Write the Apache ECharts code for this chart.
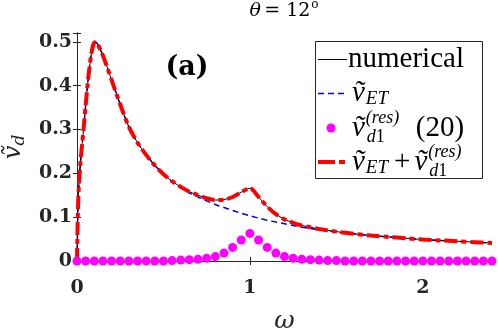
<!DOCTYPE html>
<html>
<head>
<meta charset="utf-8">
<script src="https://cdn.jsdelivr.net/npm/echarts@6/dist/echarts.min.js"></script>
<style>
html, body { margin: 0; padding: 0; background: #fff; }
#chart { width: 498px; height: 329px; }
</style>
</head>
<body>
<div id="chart"></div>
<script>
// omega grid for the continuous curves
const curveOmega = [0, 0.005, 0.01, 0.02, 0.03, 0.04, 0.05, 0.06, 0.07, 0.08, 0.09, 0.1, 0.11, 0.12, 0.14, 0.16, 0.18, 0.2,
    0.25, 0.3, 0.35, 0.4, 0.45, 0.5, 0.55, 0.6, 0.65, 0.7, 0.75, 0.8, 0.85, 0.9, 0.95, 1.0, 1.05, 1.1, 1.15, 1.2, 1.25,
    1.3, 1.35, 1.4, 1.5, 1.6, 1.7, 1.8, 1.9, 2.0, 2.1, 2.2, 2.3, 2.4]

// v_ET (blue dashed)
const etValues = [0, 0.11, 0.165, 0.225, 0.268, 0.31, 0.355, 0.397, 0.434, 0.465, 0.487, 0.498, 0.499, 0.494, 0.478, 0.458, 0.436, 0.413,
    0.357, 0.306, 0.27, 0.242, 0.218, 0.198, 0.181, 0.167, 0.155, 0.146, 0.137, 0.129, 0.122, 0.115, 0.109, 0.103, 0.098, 0.093, 0.089, 0.085, 0.081,
    0.077, 0.074, 0.071, 0.066, 0.062, 0.058, 0.055, 0.052, 0.049, 0.047, 0.045, 0.043, 0.041]

// numerical (thin black)
const numericalValues = [0, 0.11, 0.165, 0.225, 0.268, 0.31, 0.355, 0.397, 0.434, 0.465, 0.487, 0.498, 0.499, 0.494, 0.478, 0.458, 0.436, 0.413,
    0.357, 0.306, 0.27, 0.242, 0.218, 0.198, 0.182, 0.169, 0.158, 0.15, 0.143, 0.139, 0.14, 0.146, 0.157, 0.166, 0.146, 0.124, 0.107, 0.095, 0.087,
    0.081, 0.077, 0.073, 0.067, 0.062, 0.058, 0.055, 0.052, 0.049, 0.047, 0.045, 0.043, 0.041]

// v_ET + v_d1^(res) (red dash-dot)
const sumValues = [0, 0.11, 0.165, 0.225, 0.268, 0.31, 0.355, 0.397, 0.434, 0.465, 0.487, 0.498, 0.499, 0.494, 0.478, 0.458, 0.436, 0.413,
    0.357, 0.306, 0.27, 0.242, 0.218, 0.198, 0.182, 0.169, 0.158, 0.15, 0.143, 0.139, 0.14, 0.146, 0.157, 0.166, 0.146, 0.124, 0.107, 0.095, 0.087,
    0.081, 0.077, 0.073, 0.067, 0.062, 0.058, 0.055, 0.052, 0.049, 0.047, 0.045, 0.043, 0.041]

// v_d1^(res) (magenta dots), every 0.05
const resOmega = [0, 0.05, 0.1, 0.15, 0.2, 0.25, 0.3, 0.35, 0.4, 0.45, 0.5, 0.55, 0.6, 0.65, 0.7, 0.75, 0.8, 0.85, 0.9, 0.95,
    1.0, 1.05, 1.1, 1.15, 1.2, 1.25, 1.3, 1.35, 1.4, 1.45, 1.5, 1.55, 1.6, 1.65, 1.7, 1.75, 1.8, 1.85, 1.9, 1.95,
    2.0, 2.05, 2.1, 2.15, 2.2, 2.25, 2.3, 2.35, 2.4]
const resValues = [0, 0, 0, 0, 0, 0, 0, 0, 0, 0, 0, 0.001, 0.002, 0.003, 0.004, 0.006, 0.01, 0.018, 0.031, 0.048,
    0.063, 0.048, 0.031, 0.018, 0.01, 0.006, 0.004, 0.003, 0.002, 0.001, 0.001, 0, 0, 0, 0, 0, 0, 0, 0, 0,
    0, 0, 0, 0, 0, 0, 0, 0, 0]

const xTicks = [0, 1, 2]
const yTicks = [0, 0.1, 0.2, 0.3, 0.4, 0.5]

const pairs = (xs, ys) => xs.map((x, i) => [x, ys[i]])

const axisColor = '#262626'
const tickFont = {fontFamily: 'DejaVu Serif', fontWeight: 'bold', fontSize: 19, color: '#262626'}
const serif = "'Liberation Serif', 'Times New Roman', serif"
const vt = 'v\u0303'

const tickLabel = (ticks) => (v) => {
    const hit = ticks.find(t => Math.abs(t - v) < 1e-6)
    return hit === undefined ? '' : String(hit)
}

// legend drawn by hand: box + one row per series
const legendRich = {
    n: {fontFamily: serif, fontSize: 29, fill: '#000', lineHeight: 34},
    pl: {fontFamily: serif, fontSize: 29, fill: '#000', lineHeight: 34, padding: [0, 4, 0, 6]},
    n2: {fontFamily: serif, fontSize: 29, fill: '#000', lineHeight: 34, padding: [0, 0, 0, 31]},
    v: {fontFamily: serif, fontStyle: 'italic', fontSize: 29, fill: '#000', lineHeight: 34},
    sub: {fontFamily: serif, fontStyle: 'italic', fontSize: 19, fill: '#000', lineHeight: 34, padding: [11, 0, 0, 1]},
    sup: {fontFamily: serif, fontStyle: 'italic', fontSize: 18, fill: '#000', lineHeight: 34, width: 0, padding: [0, 0, 20, 1]},
    sd: {fontFamily: serif, fontStyle: 'italic', fontSize: 18, fill: '#000', lineHeight: 34, padding: [18, 0, 0, 1]},
    s1: {fontFamily: serif, fontSize: 18, fill: '#000', lineHeight: 34, padding: [18, 0, 0, 0]}
}
const legendText = (x, y, text) => ({
    type: 'text', x: x, y: y, z: 101,
    style: {text: text, align: 'left', verticalAlign: 'middle', rich: legendRich}
})

const option = {
    animation: false,
    grid: {left: 77, right: 6, top: 33, bottom: 68, outerBoundsMode: 'none', containLabel: false},
    xAxis: [
        {
            type: 'value', min: 0, max: 2.4, interval: 1,
            name: 'ω', nameLocation: 'middle', nameGap: 48,
            nameTextStyle: {fontFamily: 'DejaVu Serif', fontStyle: 'italic', fontSize: 25, color: '#262626'},
            axisLine: {show: true, lineStyle: {color: axisColor, width: 1}},
            axisTick: {show: true, inside: true, length: 4, lineStyle: {color: axisColor}},
            axisLabel: {...tickFont, margin: 18, formatter: tickLabel(xTicks)},
            splitLine: {show: false}
        },
        {
            type: 'value', min: 0, max: 2.4, interval: 1, position: 'top',
            axisLine: {show: true, lineStyle: {color: axisColor, width: 1}},
            axisTick: {show: true, inside: true, length: 4, lineStyle: {color: axisColor}},
            axisLabel: {show: false},
            splitLine: {show: false}
        }
    ],
    yAxis: [
        {
            type: 'value', min: 0, max: 0.52, interval: 0.1,
            name: '{v|' + vt + '}{d|d}', nameLocation: 'middle', nameGap: 46,
            nameTextStyle: {
                rich: {
                    v: {fontFamily: 'DejaVu Serif', fontStyle: 'italic', fontSize: 25, color: '#262626'},
                    d: {fontFamily: 'DejaVu Serif', fontStyle: 'italic', fontSize: 17, color: '#262626', padding: [12, 0, 0, 0]}
                }
            },
            axisLine: {show: true, lineStyle: {color: axisColor, width: 1}},
            axisTick: {show: true, inside: true, length: 4, lineStyle: {color: axisColor}},
            axisLabel: {...tickFont, margin: 5, formatter: tickLabel(yTicks)},
            splitLine: {show: false}
        },
        {
            type: 'value', min: 0, max: 0.52, interval: 0.1, position: 'right',
            axisLine: {show: true, lineStyle: {color: axisColor, width: 1}},
            axisTick: {show: true, inside: true, length: 4, lineStyle: {color: axisColor}},
            axisLabel: {show: false},
            splitLine: {show: false}
        }
    ],
    graphic: [
        {
            type: 'text', x: 284, y: 11,
            style: {
                text: '{t|θ} {e|= 12}{o|o}',
                align: 'center', verticalAlign: 'middle',
                rich: {
                    t: {fontFamily: 'DejaVu Serif', fontStyle: 'italic', fontSize: 19, fill: '#000'},
                    e: {fontFamily: 'DejaVu Serif', fontSize: 19, fill: '#000'},
                    o: {fontFamily: 'DejaVu Serif', fontSize: 12, fill: '#000', padding: [0, 0, 12, 1]}
                }
            }
        },
        {
            type: 'text', x: 187, y: 68,
            style: {
                text: '(a)', align: 'center', verticalAlign: 'middle',
                fontFamily: 'DejaVu Serif', fontWeight: 'bold', fontSize: 27, fill: '#000'
            }
        },
        // legend box
        {
            type: 'rect', z: 100,
            shape: {x: 315.5, y: 41.5, width: 167, height: 137},
            style: {fill: '#fff', stroke: '#262626', lineWidth: 1}
        },
        {type: 'line', z: 101, shape: {x1: 318, y1: 59.5, x2: 347, y2: 59.5}, style: {stroke: '#000', lineWidth: 1}},
        legendText(348, 59.5, '{n|numerical}'),
        {type: 'line', z: 101, shape: {x1: 318, y1: 93.5, x2: 348, y2: 93.5}, style: {stroke: '#0000ff', lineWidth: 1.5, lineDash: [6, 4]}},
        legendText(352, 93.5, '{v|' + vt + '}{sub|ET}'),
        {type: 'circle', z: 101, shape: {cx: 331, cy: 128, r: 4.5}, style: {fill: '#ff00ff'}},
        legendText(352, 128, '{v|' + vt + '}{sup|(res)}{sd|d}{s1|1}{n2|(20)}'),
        {type: 'line', z: 101, shape: {x1: 318, y1: 162, x2: 348, y2: 162}, style: {stroke: '#ff0000', lineWidth: 4, lineDash: [17, 4, 6, 4]}},
        legendText(352, 162, '{v|' + vt + '}{sub|ET}{pl|+}{v|' + vt + '}{sup|(res)}{sd|d}{s1|1}')
    ],
    series: [
        {
            name: 'et', type: 'line', z: 2, smooth: 0.3, showSymbol: false, symbol: 'none',
            data: pairs(curveOmega, etValues),
            lineStyle: {color: '#0000ff', width: 1.5, type: [6, 4]},
            itemStyle: {color: '#0000ff'}
        },
        {
            name: 'numerical', type: 'line', z: 3, smooth: 0.3, showSymbol: false, symbol: 'none',
            data: pairs(curveOmega, numericalValues),
            lineStyle: {color: '#000', width: 1},
            itemStyle: {color: '#000'}
        },
        {
            name: 'sum', type: 'line', z: 4, smooth: 0.3, showSymbol: false, symbol: 'none',
            data: pairs(curveOmega, sumValues),
            lineStyle: {color: '#ff0000', width: 4, type: [13, 4, 5, 4]},
            itemStyle: {color: '#ff0000'}
        },
        {
            name: 'res', type: 'scatter', z: 5, symbol: 'circle', symbolSize: 9,
            data: pairs(resOmega, resValues),
            itemStyle: {color: '#ff00ff', opacity: 1}
        }
    ]
}

const chart = echarts.init(document.getElementById('chart'))
chart.setOption(option)
</script>
</body>
</html>
